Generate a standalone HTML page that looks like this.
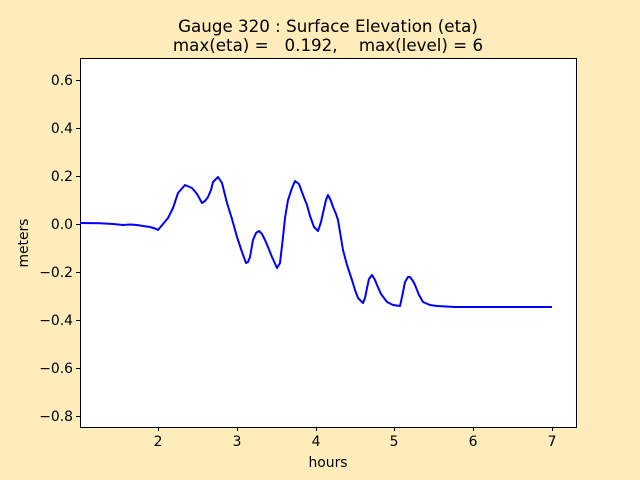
<!DOCTYPE html>
<html><head><meta charset="utf-8"><style>
html,body{margin:0;padding:0;background:#ffecbb;}
svg{display:block;font-family:"DejaVu Sans","Liberation Sans",sans-serif;}
</style></head><body>
<svg width="640" height="480" viewBox="0 0 640 480" xmlns="http://www.w3.org/2000/svg">
<rect width="640" height="480" fill="#ffecbb"/>
<rect x="80.5" y="58.5" width="496" height="369" fill="#fff" stroke="#000" stroke-width="1"/>
<g font-size="16.7" text-anchor="middle" fill="#000">
<text x="328" y="32">Gauge 320 : Surface Elevation (eta)</text>
<text x="328" y="51" xml:space="preserve">max(eta) =   0.192,    max(level) = 6</text>
</g>
<g stroke="#000" stroke-width="1">
<line x1="80" y1="80.5" x2="76" y2="80.5"/>
<line x1="80" y1="128.5" x2="76" y2="128.5"/>
<line x1="80" y1="176.5" x2="76" y2="176.5"/>
<line x1="80" y1="224.5" x2="76" y2="224.5"/>
<line x1="80" y1="272.5" x2="76" y2="272.5"/>
<line x1="80" y1="320.5" x2="76" y2="320.5"/>
<line x1="80" y1="368.5" x2="76" y2="368.5"/>
<line x1="80" y1="416.5" x2="76" y2="416.5"/>
<line x1="158.5" y1="427" x2="158.5" y2="431"/>
<line x1="237.5" y1="427" x2="237.5" y2="431"/>
<line x1="316.5" y1="427" x2="316.5" y2="431"/>
<line x1="394.5" y1="427" x2="394.5" y2="431"/>
<line x1="473.5" y1="427" x2="473.5" y2="431"/>
<line x1="552.5" y1="427" x2="552.5" y2="431"/>
</g>
<g font-size="13.9" text-anchor="end" fill="#000">
<text x="73" y="85">0.6</text>
<text x="73" y="133">0.4</text>
<text x="73" y="181">0.2</text>
<text x="73" y="229">0.0</text>
<text x="73" y="277">−0.2</text>
<text x="73" y="325">−0.4</text>
<text x="73" y="373">−0.6</text>
<text x="73" y="421">−0.8</text>
</g>
<g font-size="13.9" text-anchor="middle" fill="#000">
<text x="158" y="446">2</text>
<text x="237" y="446">3</text>
<text x="316" y="446">4</text>
<text x="394" y="446">5</text>
<text x="473" y="446">6</text>
<text x="552" y="446">7</text>
<text x="328" y="467">hours</text>
<text transform="translate(28,243) rotate(-90)">meters</text>
</g>
<polyline fill="none" stroke="#0000ff" stroke-width="2" stroke-linejoin="round" points="80,223 100,223.3 113,224 123,225 130,224.5 137,225 143,226 150,227 155,228.5 158,230 163,224 168,218 173,208 178,193 185,185 192,188 197,194 202,203 205,201 208,197 211,190 213,182 218,177 222,183 227,203 232,219 237,237 242,252 246,263 248,262 250,257 253,240 256,233 259,231 262,234 265,240 268,247 272,257 277,268 280,263 283,237 285,218 288,200 292,188 295,181 299,184 303,195 307,205 310,216 314,227 318,231 321,222 323,213 326,200 328,195 331,201 333,207 336,214 338,220 341,238 343,250 347,265 352,280 355,290 358,298 363,303 365,298 367,288 369,279 372,275 375,280 377,285 381,294 387,302 393,305 400,306 402,297 405,282 408,277 410,277 413,281 415,285 419,295 423,302 430,305 437,306 455,307 480,307 552,307"/>
</svg>
</body></html>
